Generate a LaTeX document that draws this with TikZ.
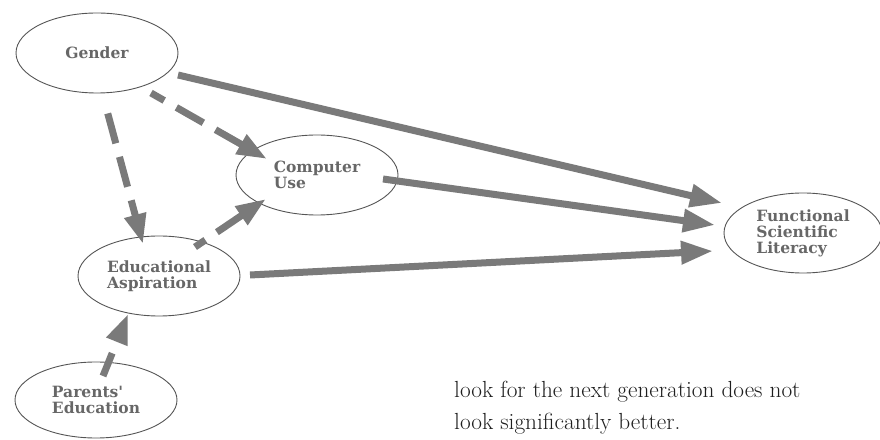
\documentclass[tikz,border=0pt]{standalone}
\usepackage{fontspec}
\newfontfamily\labelfont{DejaVu Serif}
\usetikzlibrary{shapes.geometric,arrows.meta,calc}
\definecolor{arrowgray}{HTML}{7A7A7A}
\definecolor{edgegray}{HTML}{555555}
\definecolor{labelgray}{HTML}{676767}
\definecolor{bodyink}{HTML}{1E1E1E}
\begin{document}
\begin{tikzpicture}[x=1pt,y=1pt,
  var/.style={ellipse, draw=edgegray, line width=0.9pt, inner sep=0pt,
    minimum width=162pt, minimum height=80pt,
    font=\labelfont\bfseries\fontsize{15.5}{16}\selectfont,
    text=labelgray, align=left},
  effect/.style={draw=arrowgray, line width=7pt,
    -{Triangle[length=32pt,width=22pt]}},
  weakeffect/.style={draw=arrowgray, line width=7pt,
    {Triangle[length=30pt,width=21pt]}-,
    dash pattern=on 31pt off 14pt},
  bodytext/.style={anchor=base west, inner sep=0pt, text=bodyink,
    font=\fontsize{23.3}{32}\selectfont}]
\useasboundingbox (0,0) rectangle (880,439);

% variables of the path model
\node[var] (gender) at (97,386) {Gender};
\node[var] (comp)   at (317,264) {Computer\\Use};
\node[var] (edu)    at (159,163) {Educational\\Aspiration};
\node[var, minimum height=76pt] (par) at (96,39) {Parents'\\Education};
\node[var, minimum width=158pt] (fsl) at (803,206) {Functional\\Scientific\\Literacy};

% direct effects on literacy
\draw[effect] ($(gender)+(81,-22)$) -- ($(fsl)+(-81,30)$);
\draw[effect] ($(comp)+(66,-4)$)    -- ($(fsl)+(-88,8)$);
\draw[effect] ($(edu)+(91,1)$)      -- ($(fsl)+(-90,-18)$);

% indirect effects (drawn from the head back to the source)
\draw[weakeffect, dash phase=0pt]  ($(comp)+(-50,16)$)  -- ($(gender)+(54,-40)$);
\draw[weakeffect, dash phase=14pt] ($(edu)+(-16,32)$)   -- ($(gender)+(9,-54)$);
\draw[weakeffect, dash phase=0pt]  ($(comp)+(-51,-24)$) -- ($(edu)+(36,29)$);
\draw[weakeffect, dash phase=31pt] ($(edu)+(-31,-38)$)  -- ($(par)+(7,24)$);

% running text below the figure
\node[bodytext] (body)  at (454,42) {look for the next generation does not};
\node[bodytext] (body2) at (454,10) {look significantly better.};
\end{tikzpicture}
\end{document}
